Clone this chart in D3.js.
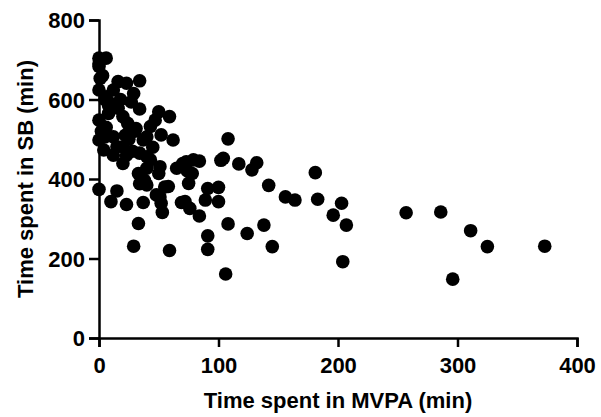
<!DOCTYPE html>
<html>
<head>
<meta charset="utf-8">
<script src="https://cdn.jsdelivr.net/npm/d3@7"></script>
<style>
  body { margin: 0; background: #fff; }
  svg text { font-family: "Liberation Sans", Arial, Helvetica, sans-serif; font-weight: bold; }
</style>
</head>
<body>
<svg id="chart" width="601" height="417"></svg>
<script>
// time spent in MVPA (min) and SB (min), one entry per participant
var mvpa = [
  0, 6, 0, 1, 16, 34, 23, 0, 12, 6, 29, 27, 34, 16, 0, 8, 20, 24, 50, 59,
  47, 31, 43, 40, 37, 52, 62, 0, 5, 12, 15, 4, 20, 23, 20, 34, 40, 43, 51, 50,
  40, 33, 38, 70, 79, 65, 78,
  0, 15, 10, 23, 37, 33, 29, 59, 51, 52, 53, 69, 75, 34, 40, 58,
  108, 104, 102, 117, 132, 128, 181, 142, 156, 164, 183, 203, 196, 207, 204, 106, 145, 124, 138, 108,
  91, 91, 89, 100, 91, 100, 84, 73, 74, 72, 76, 84,
  257, 286, 311, 325, 373, 296,
  0, 3, 5, 8, 2, 6, 10, 18, 25, 28, 45, 55, 48, 30, 12, 22
];
var sb = [
  704, 704, 683, 653, 645, 647, 641, 624, 624, 607, 615, 594, 576, 578, 548, 565, 557, 540, 569, 557,
  548, 527, 532, 506, 498, 511, 498, 498, 506, 506, 481, 473, 481, 460, 439, 465, 456, 448, 431, 414,
  427, 414, 397, 439, 448, 427, 414,
  374, 370, 343, 336, 341, 288, 231, 220, 355, 339, 316, 341, 389, 388, 385, 381,
  501, 452, 447, 438, 441, 423, 416, 384, 355, 347, 349, 339, 309, 284, 192, 161, 230, 263, 284, 287,
  257, 223, 347, 343, 376, 379, 445, 443, 420, 343, 326, 307,
  315, 317, 270, 230, 231, 148,
  690, 660, 600, 585, 520, 530, 590, 600, 500, 470, 480, 380, 360, 520, 460, 510
];
var xTicks = [0, 100, 200, 300, 400];
var yTicks = [0, 200, 400, 600, 800];

var svg = d3.select('#chart');

var x = d3.scaleLinear().domain([0, 400]).range([99, 577]);
var y = d3.scaleLinear().domain([0, 800]).range([338, 20]);

var xAxis = svg.append('g')
  .attr('transform', 'translate(0,338)')
  .call(d3.axisBottom(x).tickValues(xTicks).tickSizeOuter(0).tickSize(9).tickPadding(6));
var yAxis = svg.append('g')
  .attr('transform', 'translate(99,0)')
  .call(d3.axisLeft(y).tickValues(yTicks).tickSizeOuter(0).tickSize(10).tickPadding(4));

[xAxis, yAxis].forEach(function(a) {
  a.selectAll('path, line').attr('stroke', '#000').attr('stroke-width', 2.5);
  a.selectAll('text').attr('fill', '#000').style('font-size', '22px');
});
xAxis.selectAll('text').attr('dy', null).attr('y', 35);
yAxis.selectAll('text').attr('dy', '0.36em');

// dots
svg.append('g').selectAll('circle')
  .data(mvpa.map(function(d, i) { return [d, sb[i]]; }))
  .enter().append('circle')
  .attr('cx', function(d) { return x(d[0]); })
  .attr('cy', function(d) { return y(d[1]); })
  .attr('r', 6.8)
  .attr('fill', '#000');

// axis titles
svg.append('text')
  .attr('x', 338).attr('y', 408)
  .attr('text-anchor', 'middle')
  .style('font-size', '22px')
  .text('Time spent in MVPA (min)');
svg.append('text')
  .attr('transform', 'translate(33,179) rotate(-90)')
  .attr('text-anchor', 'middle')
  .style('font-size', '22px')
  .text('Time spent in SB (min)');
</script>
</body>
</html>
